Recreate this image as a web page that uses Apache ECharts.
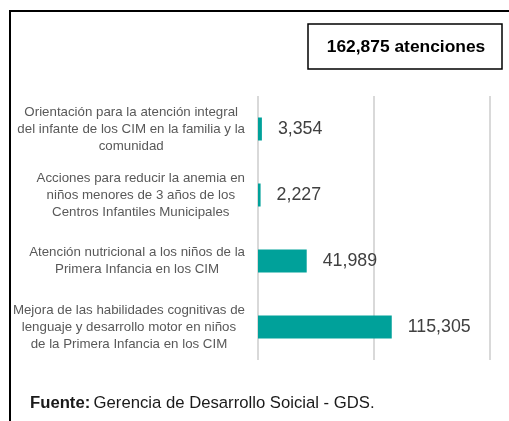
<!DOCTYPE html>
<html>
<head>
<meta charset="utf-8">
<script src="https://cdn.jsdelivr.net/npm/echarts@6/dist/echarts.min.js"></script>
<style>
html,body{margin:0;padding:0;background:#fff;}
#c{width:509px;height:421px;}
</style>
</head>
<body>
<div id="c"></div>
<script>
const categories = [
  "Orientación para la atención integral\ndel infante de los CIM en la familia y la\ncomunidad",
  "Acciones para reducir la anemia en\nniños menores de 3 años de los\nCentros Infantiles Municipales",
  "Atención nutricional a los niños de la\nPrimera Infancia en los CIM",
  "Mejora de las habilidades cognitivas de\nlenguaje y desarrollo motor en niños\nde la Primera Infancia en los CIM"
];
const values = [3354, 2227, 41989, 115305];
const totalLabel = "162,875 atenciones";
const sourceLabel = "Gerencia de Desarrollo Soicial - GDS.";

const FONT = "'Liberation Sans', Arial, sans-serif";
const chart = echarts.init(document.getElementById('c'), null, {renderer: 'canvas'});
chart.setOption({
  animation: false,
  backgroundColor: '#ffffff',
  grid: {left: 258, right: 19, top: 96, bottom: 61, containLabel: false},
  xAxis: {
    type: 'value', min: 0, max: 200000, interval: 100000,
    axisLabel: {show: false}, axisLine: {show: false}, axisTick: {show: false},
    splitLine: {show: true, lineStyle: {color: '#d9d9d9', width: 2}}
  },
  yAxis: {
    type: 'category', inverse: true, data: categories,
    axisLine: {show: false}, axisTick: {show: false},
    axisLabel: {
      margin: 13,
      formatter: function (v) { return v.split('\n').map(s => '{a|' + s + '}').join('\n'); },
      rich: {a: {align: 'center', fontFamily: FONT, fontSize: 13.3, lineHeight: 17, color: '#595959'}}
    }
  },
  series: [{
    type: 'bar', data: values, barWidth: 23,
    itemStyle: {color: '#00a19a'},
    label: {
      show: true, position: 'right', distance: 16,
      fontFamily: FONT, fontSize: 17.8, color: '#404040',
      formatter: p => p.value.toLocaleString('en-US')
    }
  }],
  graphic: [
    {type: 'rect', shape: {x: 10, y: 11, width: 520, height: 430}, style: {fill: 'none', stroke: '#000', lineWidth: 2}, silent: true},
    {type: 'rect', shape: {x: 308, y: 24, width: 194, height: 45}, style: {fill: '#fff', stroke: '#000', lineWidth: 1.5}, silent: true},
    {type: 'text', x: 406, y: 47, style: {text: totalLabel, font: 'bold 17.4px ' + FONT, fill: '#000', align: 'center', verticalAlign: 'middle'}},
    {type: 'text', x: 30, y: 403, style: {
      text: '{b|Fuente:} {n|' + sourceLabel + '}', verticalAlign: 'middle',
      rich: {
        b: {fontFamily: FONT, fontWeight: 'bold', fontSize: 16.7, fill: '#1a1a1a', color: '#1a1a1a'},
        n: {fontFamily: FONT, fontSize: 16.7, fill: '#1a1a1a', color: '#1a1a1a'}
      }
    }}
  ]
});
</script>
</body>
</html>
